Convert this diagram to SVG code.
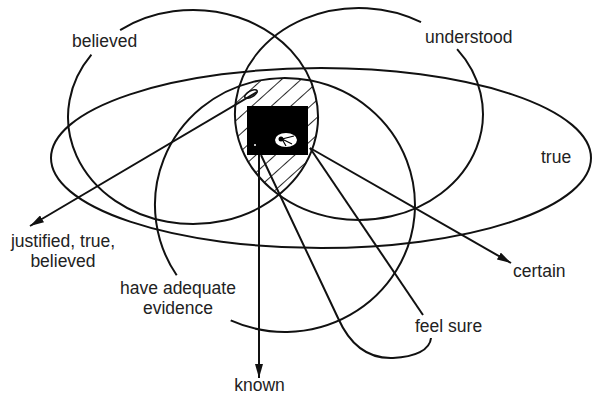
<svg xmlns="http://www.w3.org/2000/svg" width="593" height="395" viewBox="0 0 593 395">
<style>
.c{fill:none;stroke:#111;stroke-width:2}
.t{font-family:"Liberation Sans",Arial,sans-serif;font-size:17.5px;fill:#222}
.m{text-anchor:middle}
</style>
<defs>
<marker id="ah" viewBox="0 0 14 8" refX="14" refY="4" markerWidth="14" markerHeight="8" orient="auto" markerUnits="userSpaceOnUse">
<path d="M0,0 L14,4 L0,8 z" fill="#111"/>
</marker>
<pattern id="hatch" patternUnits="userSpaceOnUse" width="13" height="13" patternTransform="rotate(48)">
<line x1="0" y1="0" x2="0" y2="13" stroke="#111" stroke-width="1.8"/>
</pattern>
<clipPath id="cB"><ellipse cx="193" cy="117" rx="125" ry="107"/></clipPath>
<clipPath id="cU"><ellipse cx="359" cy="114" rx="124" ry="106"/></clipPath>
<clipPath id="cE"><ellipse cx="285" cy="205" rx="130" ry="127"/></clipPath>
</defs>
<rect width="593" height="395" fill="#fff"/>

<g id="core">
<g clip-path="url(#cB)"><g clip-path="url(#cU)"><g clip-path="url(#cE)">
<rect x="200" y="30" width="140" height="180" fill="url(#hatch)"/>
</g></g></g>
<rect x="247" y="106" width="61" height="49" fill="#000"/>
<ellipse cx="286" cy="140" rx="11" ry="7" fill="#fff"/>
<circle cx="281" cy="139" r="2.5" fill="#000"/>
<path d="M282 139 L294 136 M282 139 L292 144 M282 139 L286 146" stroke="#000" stroke-width="1.2" fill="none"/>
<circle cx="255" cy="145" r="1" fill="#fff"/>
<ellipse cx="251" cy="94" rx="7" ry="3" transform="rotate(-30 251 94)" fill="none" stroke="#111" stroke-width="1.5"/>
</g>

<g id="believed">
<path class="c" d="M 120.1 30.1 A 125 107 0 1 1 91.4 54.7"/>
<text class="t" x="72" y="47">believed</text>
</g>

<g id="understood">
<path class="c" d="M 457.1 49.2 A 124 106 0 1 1 421 22.2"/>
<text class="t" x="425" y="43">understood</text>
</g>

<g id="true">
<ellipse class="c" cx="321" cy="158" rx="270" ry="90"/>
<text class="t" x="541" y="163">true</text>
</g>

<g id="evidence">
<path class="c" d="M 176.7 275.3 A 130 127 0 1 1 230.7 320.4"/>
<text class="t m" x="178" y="294">have adequate</text>
<text class="t m" x="178" y="313.5">evidence</text>
</g>

<g id="feel-sure">
<path class="c" d="M 261 155 L 338 318 C 350 345 368 359 393 358 C 415 357 430 350 431 338"/>
<text class="t" x="415" y="332">feel sure</text>
</g>

<g id="justified">
<text class="t m" x="63" y="247">justified, true,</text>
<text class="t m" x="63" y="266.5">believed</text>
</g>

<g id="certain">
<text class="t" x="513" y="277">certain</text>
</g>

<g id="known">
<text class="t m" x="259.5" y="391">known</text>
</g>

<g id="connectors">
<path class="c" d="M 257 92 L 30 226" marker-end="url(#ah)"/>
<path class="c" d="M 310 148 L 511 263" marker-end="url(#ah)"/>
<path class="c" d="M 259 155 L 259 378" marker-end="url(#ah)"/>
<path class="c" d="M 310 148 L 423 315"/>
</g>
</svg>
